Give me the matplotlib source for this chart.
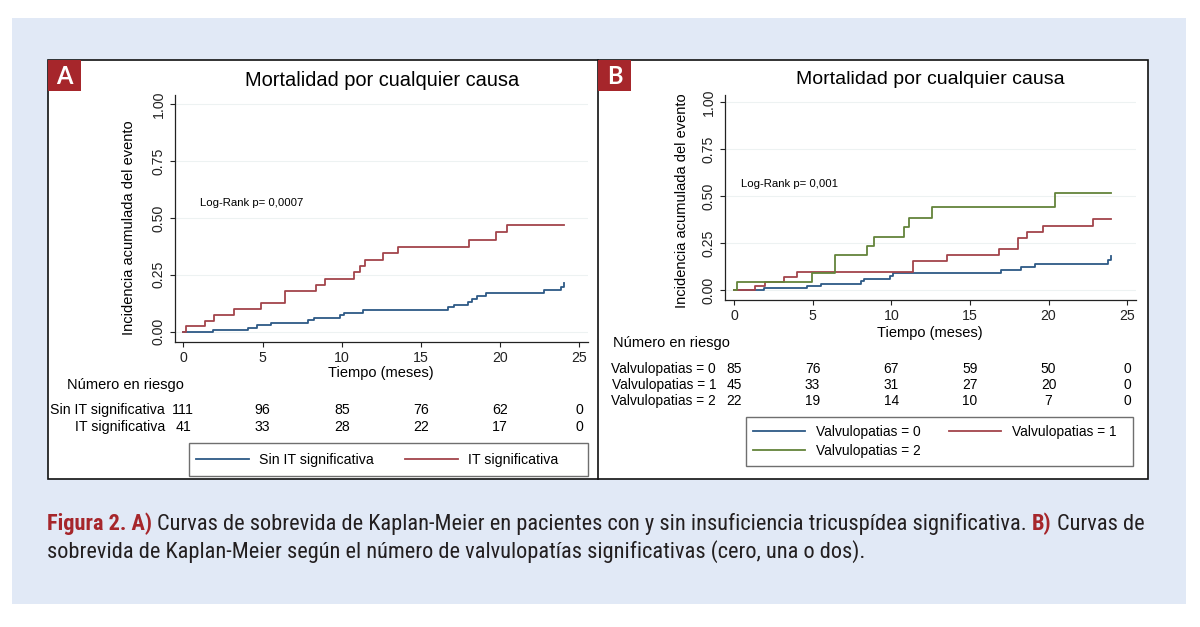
import matplotlib
matplotlib.use("Agg")
import matplotlib.pyplot as plt
import matplotlib.transforms as mtransforms
from matplotlib import font_manager as fm
from matplotlib.patches import Rectangle
from matplotlib.lines import Line2D

# ---- datos ----
tiempo_ticks = [0, 5, 10, 15, 20, 25]
incid_ticks = [0.00, 0.25, 0.50, 0.75, 1.00]

# Panel A: sin / con IT significativa (incidencia acumulada, pasos)
a_sin_t = [0, 1.85, 4.07, 4.64, 5.54, 7.86, 8.22, 9.87, 10.12, 11.34, 16.7, 17.1,
           17.94, 18.19, 18.55, 19.1, 22.77, 23.82, 24.0, 24.05]
a_sin_y = [0, 0.008, 0.018, 0.028, 0.040, 0.051, 0.062, 0.074, 0.084, 0.096, 0.107, 0.118,
           0.132, 0.144, 0.155, 0.169, 0.184, 0.197, 0.213, 0.213]
a_it_t = [0, 0.17, 1.37, 1.92, 3.22, 4.91, 6.39, 8.39, 8.92, 10.77, 11.13, 11.45,
          12.6, 13.57, 18.04, 19.71, 20.4, 24.05]
a_it_y = [0, 0.024, 0.049, 0.073, 0.098, 0.124, 0.180, 0.206, 0.232, 0.262, 0.290, 0.316,
          0.345, 0.371, 0.404, 0.437, 0.470, 0.470]
a_grupos = ["Sin IT significativa", "IT significativa"]
a_riesgo_sin = [111, 96, 85, 76, 62, 0]
a_riesgo_it = [41, 33, 28, 22, 17, 0]
a_logrank = "Log-Rank p= 0,0007"

# Panel B: numero de valvulopatias
b_v0_t = [0, 1.9, 4.66, 5.51, 8.1, 8.27, 9.92, 10.14, 17.0, 18.24, 19.15, 23.8, 23.96, 24.0]
b_v0_y = [0, 0.012, 0.020, 0.032, 0.048, 0.061, 0.075, 0.089, 0.104, 0.120, 0.139, 0.160, 0.182, 0.182]
b_v1_t = [0, 1.36, 2.0, 3.18, 4.03, 11.37, 13.57, 16.86, 18.05, 18.62, 19.64, 22.82, 24.0]
b_v1_y = [0, 0.023, 0.044, 0.068, 0.098, 0.157, 0.188, 0.218, 0.277, 0.309, 0.343, 0.379, 0.379]
b_v2_t = [0, 0.17, 4.94, 6.42, 8.44, 8.93, 10.84, 11.15, 12.6, 20.38, 24.0]
b_v2_y = [0, 0.045, 0.092, 0.188, 0.236, 0.282, 0.334, 0.384, 0.443, 0.518, 0.518]
b_grupos = ["Valvulopatias = 0", "Valvulopatias = 1", "Valvulopatias = 2"]
b_riesgo_v0 = [85, 76, 67, 59, 50, 0]
b_riesgo_v1 = [45, 33, 31, 27, 20, 0]
b_riesgo_v2 = [22, 19, 14, 10, 7, 0]
b_logrank = "Log-Rank p= 0,001"

titulo = "Mortalidad por cualquier causa"
ylab = "Incidencia acumulada del evento"
xlab = "Tiempo (meses)"
riesgo_lab = "Número en riesgo"

linea1 = [("Figura 2. A)", True), ("Curvas de sobrevida de Kaplan-Meier en pacientes con y sin "
          "insuficiencia tricuspídea significativa.", False), ("B)", True), ("Curvas de", False)]
linea2 = [("sobrevida de Kaplan-Meier según el número de valvulopatías significativas "
           "(cero, una o dos).", False)]

NAVY = "#2d5986"
MAROON = "#a3444b"
GREEN = "#63843a"
ROJO = "#a6262b"

plt.rcParams['font.family'] = ['Liberation Sans', 'DejaVu Sans']

W, H = 1200, 627
fig = plt.figure(figsize=(W / 100, H / 100), dpi=100)


def fx(x):
    return x / W


def fy(y):
    return 1 - y / H


def rect(x0, y0, x1, y1, **kw):
    r = Rectangle((fx(x0), fy(y1)), fx(x1) - fx(x0), fy(y0) - fy(y1),
                  transform=fig.transFigure, **kw)
    fig.add_artist(r)
    return r


# fondo y marco
rect(12, 18, 1186, 604, facecolor="#e1e9f6", edgecolor="none", zorder=-5)
rect(48, 60, 1148, 479, facecolor="white", edgecolor="#111111", lw=1.2, zorder=-4)
fig.add_artist(Line2D([fx(598)] * 2, [fy(60), fy(479)], color="#111111", lw=1.2, zorder=-3))
for x0, letra in [(48, "A"), (598, "B")]:
    rect(x0, 60, x0 + 33, 91, facecolor=ROJO, edgecolor="none", zorder=-2)
    fig.text(fx(x0 + 16.5), fy(76), letra, color="white", fontsize=17, fontweight="bold",
             family=["Lato", "DejaVu Sans"], ha="center", va="center")


def make_axes(left, right, top, bottom, xlim, ylim):
    ax = fig.add_axes([fx(left), fy(bottom), fx(right) - fx(left), fy(top) - fy(bottom)])
    ax.set_facecolor("none")
    ax.set_xlim(*xlim)
    ax.set_ylim(*ylim)
    for s in ["top", "right"]:
        ax.spines[s].set_visible(False)
    for s in ["left", "bottom"]:
        ax.spines[s].set_color("#222222")
        ax.spines[s].set_linewidth(0.9)
    ax.set_xticks(tiempo_ticks)
    ax.set_yticks(incid_ticks)
    ax.set_yticklabels([f"{v:.2f}" for v in incid_ticks], rotation=90, va="center")
    ax.tick_params(direction="out", length=3.6, width=0.8, labelsize=10.2, pad=3, colors="#222222")
    ax.grid(axis="y", color="#edf2f2", lw=0.8)
    ax.set_axisbelow(True)
    return ax


# ---------------- Panel A ----------------
axA = make_axes(175, 588, 95, 341.7, (-0.524, 25.54), (-0.044, 1.040))
axA.step(a_sin_t, a_sin_y, where="post", color=NAVY, lw=1.3)
axA.step(a_it_t, a_it_y, where="post", color=MAROON, lw=1.3)
fig.text(fx(199.6), fy(203), a_logrank, fontsize=8.2, ha="left", va="center")

fig.text(fx(382), fy(80), titulo, fontsize=14.4, ha="center", va="center")
fig.text(fx(128.6), fy(228), ylab, fontsize=10.5, rotation=90, ha="center", va="center")
fig.text(fx(381), fy(373), xlab, fontsize=10.5, ha="center", va="center")
fig.text(fx(66.7), fy(385), riesgo_lab, fontsize=10.5, ha="left", va="center")

trA = mtransforms.blended_transform_factory(axA.transData, fig.transFigure)
for fila_y, grupo, cifras in [(410, a_grupos[0], a_riesgo_sin), (427, a_grupos[1], a_riesgo_it)]:
    fig.text(fx(165), fy(fila_y), grupo, fontsize=10.2, ha="right", va="center")
    for t, n in zip(tiempo_ticks, cifras):
        fig.text(t, fy(fila_y), str(n), transform=trA, fontsize=10.2, ha="center", va="center")

rect(189, 443, 588, 476, facecolor="none", edgecolor="#6f6f6f", lw=1.0, zorder=-1)
hA = [Line2D([], [], color=NAVY, lw=1.3), Line2D([], [], color=MAROON, lw=1.3)]
fig.legend(hA, a_grupos, loc="center left", bbox_to_anchor=(fx(196), fy(460)),
           ncol=2, frameon=False, borderpad=0, borderaxespad=0, handlelength=3.75,
           handletextpad=0.7, columnspacing=2.2, fontsize=10.2)

# ---------------- Panel B ----------------
axB = make_axes(725, 1136, 95, 300, (-0.572, 25.56), (-0.053, 1.037))
axB.step(b_v0_t, b_v0_y, where="post", color=NAVY, lw=1.3)
axB.step(b_v1_t, b_v1_y, where="post", color=MAROON, lw=1.3)
axB.step(b_v2_t, b_v2_y, where="post", color=GREEN, lw=1.3)
trB = mtransforms.blended_transform_factory(axB.transData, fig.transFigure)
fig.text(fx(741), fy(184), b_logrank, fontsize=8.2, ha="left", va="center")

fig.text(fx(930), fy(80), titulo, fontsize=14.0, ha="center", va="center")
fig.text(fx(682.5), fy(201), ylab, fontsize=10.5, rotation=90, ha="center", va="center")
fig.text(fx(930), fy(333), xlab, fontsize=10.5, ha="center", va="center")
fig.text(fx(613), fy(342.7), riesgo_lab, fontsize=10.5, ha="left", va="center")

for fila_y, grupo, cifras in [(369, b_grupos[0], b_riesgo_v0), (385, b_grupos[1], b_riesgo_v1),
                              (401, b_grupos[2], b_riesgo_v2)]:
    fig.text(fx(716), fy(fila_y), grupo, fontsize=9.9, ha="right", va="center")
    for t, n in zip(tiempo_ticks, cifras):
        fig.text(t, fy(fila_y), str(n), transform=trB, fontsize=9.9, ha="center", va="center")

rect(746, 417, 1133, 466, facecolor="none", edgecolor="#6f6f6f", lw=1.0, zorder=-1)
hB = [Line2D([], [], color=c, lw=1.3) for c in (NAVY, MAROON, GREEN)]
orden = [0, 2, 1]
fig.legend([hB[i] for i in orden], [b_grupos[i] for i in orden], loc="upper left",
           bbox_to_anchor=(fx(753), fy(425)), ncol=2, frameon=False, borderpad=0,
           borderaxespad=0, handlelength=3.8, handletextpad=0.75, columnspacing=2.1,
           labelspacing=0.35, fontsize=9.9)

# ---------------- pie de figura ----------------
def buscar_condensada():
    # una sans estrecha parecida a la del pie original, si esta instalada
    for fam in ["Open Sans", "Noto Sans", "Roboto", "Lato", "Liberation Sans", "DejaVu Sans"]:
        reg = bold = None
        for f in fm.fontManager.ttflist:
            if not f.name.startswith(fam) or "Mono" in f.name or "CJK" in f.name:
                continue
            estrecha = (str(f.stretch) in ("condensed", "semi-condensed")
                        or "Condensed" in f.name or "Narrow" in f.name)
            if not estrecha or "Extra" in f.name or "Ultra" in f.name:
                continue
            if f.style != "normal":
                continue
            if f.weight in (400, "normal", "regular", "book") and reg is None:
                reg = f.fname
            if f.weight in (700, "bold") and bold is None:
                bold = f.fname
        if reg and bold:
            return reg, bold
    return None


fuentes = buscar_condensada()


def cap_kw(size, bold):
    if fuentes:
        return dict(fontproperties=fm.FontProperties(fname=fuentes[1] if bold else fuentes[0],
                                                     size=size))
    return dict(family=["Lato", "DejaVu Sans"], fontsize=size,
                fontweight="bold" if bold else "normal")


renderer = fig.canvas.get_renderer()


def ancho(s, size, bold):
    t = fig.text(0, 0, s, **cap_kw(size, bold))
    w = t.get_window_extent(renderer=renderer).width
    t.remove()
    return w


def poner_linea(piezas, size, x0, y_base):
    esp = ancho("x x", size, False) - ancho("xx", size, False)
    x = x0
    for s, bold in piezas:
        fig.text(fx(x), fy(y_base), s, color=ROJO if bold else "#231f20",
                 ha="left", va="baseline", **cap_kw(size, bold))
        x += ancho(s, size, bold) + esp


base = 14.0
esp0 = ancho("x x", base, False) - ancho("xx", base, False)
total = sum(ancho(s, base, b) for s, b in linea1) + esp0 * (len(linea1) - 1)
size_cap = base * 1102 / total
poner_linea(linea1, size_cap, 47, 530)
poner_linea(linea2, size_cap, 47, 558)

fig.savefig("out.png", dpi=100)
